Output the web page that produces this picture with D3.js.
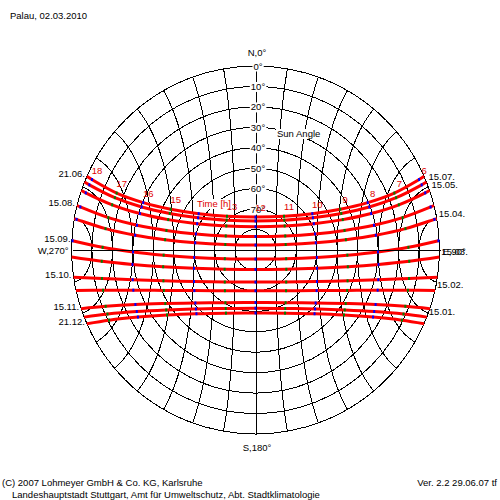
<!DOCTYPE html>
<html><head><meta charset="utf-8">
<script src="https://cdn.jsdelivr.net/npm/d3@7"></script>
<style>
html,body{margin:0;padding:0;background:#fff;}
svg{display:block;font-family:"Liberation Sans",Arial,sans-serif;}
</style></head><body>
<svg id="chart" width="500" height="500"></svg>
<script>
// ---------------- data ----------------
const title = "Palau, 02.03.2010";
const footerLeft1 = "(C) 2007 Lohmeyer GmbH & Co. KG, Karlsruhe";
const footerLeft2 = "Landeshauptstadt Stuttgart, Amt für Umweltschutz, Abt. Stadtklimatologie";
const footerRight = "Ver. 2.2 29.06.07 tf";
const elevationRings = [0, 10, 20, 30, 40, 50, 60, 70, 80];
const elevationLabels = [0, 10, 20, 30, 40, 50, 60, 70];
// grid curves: angle (deg) measured from the east direction
const gridAngles = [10, 20, 30, 40, 50, 60, 70, 80, 100, 110, 120, 130, 140, 150, 160, 170];
const compassLabels = ["N,0°", "E,90°", "S,180°", "W,270°"];
const compassAz = [0, 90, 180, 270];
// hour 14 is hidden under the "Time [h]" caption in the reference
const hourLabels = [6, 7, 8, 9, 10, 11, 12, 13, 15, 16, 17, 18];
const dateNames = ["21.06.", "15.07.", "15.05.", "15.08.", "15.04.", "15.09.", "15.03.", "15.10.", "15.02.", "15.11.", "15.01.", "21.12."];
const dateLabelSide = ["left", "right", "right", "left", "right", "left", "right", "left", "right", "left", "right", "left"];
// sun positions per date: [hour, azimuth deg, elevation deg]
const sun2106 = [[5.79,66.4,0],[6,66.7,2.9],[7,67.7,16.6],[8,67.1,30.4],[9,64.3,44.0],[10,57.4,57.0],[11,40.2,68.4],[12,0,73.9],[13,319.8,68.4],[14,302.6,57.0],[15,295.7,44.0],[16,292.9,30.4],[17,292.3,16.6],[18,293.3,2.9],[18.21,293.6,0]];
const sun1507 = [[5.81,68.3,0],[6,68.6,2.7],[7,69.6,16.6],[8,69.3,30.5],[9,66.9,44.4],[10,60.7,57.8],[11,44.0,69.7],[12,0,75.8],[13,316.0,69.7],[14,299.3,57.8],[15,293.1,44.4],[16,290.7,30.5],[17,290.4,16.6],[18,291.4,2.7],[18.19,291.7,0]];
const sun1505 = [[5.83,71.1,0],[6,71.4,2.4],[7,72.5,16.5],[8,72.5,30.7],[9,70.8,44.8],[10,65.7,58.7],[11,50.5,71.5],[12,0,78.6],[13,309.5,71.5],[14,294.3,58.7],[15,289.2,44.8],[16,287.5,30.7],[17,287.5,16.5],[18,288.6,2.4],[18.17,288.9,0]];
const sun1508 = [[5.88,76.0,0],[6,76.2,1.8],[7,77.6,16.3],[8,78.2,30.8],[9,77.6,45.4],[10,74.9,59.8],[11,64.7,73.9],[12,0,83.4],[13,295.3,73.9],[14,285.1,59.8],[15,282.4,45.4],[16,281.8,30.8],[17,282.4,16.3],[18,283.8,1.8],[18.12,284.0,0]];
const sun1504 = [[5.92,80.2,0],[6,80.3,1.2],[7,81.9,15.9],[8,83.0,30.7],[9,83.5,45.5],[10,83.2,60.3],[11,79.7,75.0],[12,0,87.6],[13,280.3,75.0],[14,276.8,60.3],[15,276.5,45.5],[16,277.0,30.7],[17,278.1,15.9],[18,279.7,1.2],[18.08,279.8,0]];
const sun1509 = [[6,87.1,0.4],[7,89.0,15.2],[8,90.9,30.1],[9,93.2,45.0],[10,96.9,59.8],[11,105.8,74.4],[12,180,85.6],[13,254.2,74.4],[14,263.1,59.8],[15,266.8,45.0],[16,269.1,30.1],[17,271.0,15.2],[18,272.9,0.4]];
const sun1503 = [[6.02,92.2,0],[7,94.2,14.6],[8,96.7,29.4],[9,100.3,44.1],[10,106.6,58.6],[11,122.0,72.2],[12,180,80.5],[13,238.0,72.2],[14,253.4,58.6],[15,259.7,44.1],[16,263.3,29.4],[17,265.8,14.6],[17.98,267.8,0]];
const sun1510 = [[6.07,98.5,0],[7,100.5,13.6],[8,103.6,28.2],[9,108.5,42.5],[10,117.2,56.2],[11,136.2,68.3],[12,180,74.3],[13,223.8,68.3],[14,242.8,56.2],[15,251.5,42.5],[16,256.4,28.2],[17,259.5,13.6],[17.93,261.5,0]];
const sun1502 = [[6.11,102.7,0],[7,104.8,12.9],[8,108.2,27.1],[9,113.8,41.0],[10,123.6,54.1],[11,143.1,65.1],[12,180,70.1],[13,216.9,65.1],[14,236.4,54.1],[15,246.2,41.0],[16,251.8,27.1],[17,255.2,12.9],[17.89,257.3,0]];
const sun1511 = [[6.16,108.6,0],[7,110.6,11.7],[8,114.4,25.5],[9,120.7,38.7],[10,131.4,50.8],[11,150.3,60.3],[12,180,64.3],[13,209.7,60.3],[14,228.6,50.8],[15,239.3,38.7],[16,245.6,25.5],[17,249.4,11.7],[17.84,251.4,0]];
const sun1501 = [[6.19,111.4,0],[7,113.4,11.1],[8,117.4,24.6],[9,123.9,37.4],[10,134.7,49.0],[11,153.0,57.9],[12,180,61.5],[13,207.0,57.9],[14,225.3,49.0],[15,236.1,37.4],[16,242.6,24.6],[17,246.6,11.1],[17.81,248.6,0]];
const sun2112 = [[6.21,113.6,0],[7,115.6,10.6],[8,119.7,23.8],[9,126.3,36.3],[10,137.2,47.5],[11,154.9,55.9],[12,180,59.2],[13,205.1,55.9],[14,222.8,47.5],[15,233.7,36.3],[16,240.3,23.8],[17,244.4,10.6],[17.79,246.4,0]];
const sunPaths = [sun2106, sun1507, sun1505, sun1508, sun1504, sun1509, sun1503, sun1510, sun1502, sun1511, sun1501, sun2112];

// ---------------- layout ----------------
const cx = 255.5, cy = 250, R = 184;
const FONT = 9.5;
const svg = d3.select("#chart");
svg.append("rect").attr("width", 500).attr("height", 500).attr("fill", "#fff");

const rScale = d3.scaleLinear().domain([90, 0]).range([0, R]);
const aScale = d3.scaleLinear().domain([0, 360]).range([0, 2 * Math.PI]);
const pos = (az, el) => {
  const r = rScale(el), a = aScale(az);
  return [cx + r * Math.sin(a), cy - r * Math.cos(a)];
};

const g = svg.append("g").attr("transform", `translate(${cx},${cy})`);

function labelWithBg(parent, x, y, text, opts) {
  const o = Object.assign({anchor: "start", color: "#000", bg: false, size: FONT}, opts || {});
  const grp = parent.append("g");
  const t = grp.append("text").attr("x", x).attr("y", y)
    .attr("text-anchor", o.anchor).attr("fill", o.color)
    .attr("font-size", o.size).text(text);
  if (o.bg) {
    const b = t.node().getBBox();
    grp.insert("rect", "text").attr("x", b.x - 1).attr("y", b.y + 1)
      .attr("width", b.width + 2).attr("height", b.height - 1).attr("fill", "#fff");
  }
  return t;
}

// ---------------- grid ----------------
g.selectAll("circle.ring").data(elevationRings).join("circle")
  .attr("class", "ring").attr("r", d => rScale(d))
  .attr("fill", "none").attr("stroke", "#000").attr("stroke-width", 1)
  .attr("shape-rendering", "crispEdges");

const gridLine = d3.lineRadial().angle(d => aScale(d[0])).radius(d => rScale(d[1]));
const psiSteps = d3.range(-90, 90.001, 2);
gridAngles.forEach(th => {
  const t = th * Math.PI / 180;
  const pts = psiSteps.map(ps => {
    const p = ps * Math.PI / 180;
    const east = Math.cos(t), north = Math.sin(t) * Math.sin(p), up = Math.sin(t) * Math.cos(p);
    return [Math.atan2(east, north) * 180 / Math.PI, Math.asin(Math.max(0, up)) * 180 / Math.PI];
  });
  g.append("path").attr("d", gridLine(pts)).attr("fill", "none")
    .attr("stroke", "#000").attr("stroke-width", 1).attr("shape-rendering", "crispEdges");
});
// N-S and E-W axes
[[0, 180], [90, 270]].forEach(pair => {
  const p1 = pos(pair[0], 0), p2 = pos(pair[1], 0);
  svg.append("line").attr("x1", Math.round(p1[0]) + 0.5).attr("y1", Math.round(p1[1]) + 0.5)
    .attr("x2", Math.round(p2[0]) + 0.5).attr("y2", Math.round(p2[1]) + 0.5)
    .attr("stroke", "#000").attr("stroke-width", 1).attr("shape-rendering", "crispEdges");
});

// elevation labels on the north axis
elevationLabels.forEach(e => {
  const p = pos(0, e);
  labelWithBg(svg, p[0] + 2.5, p[1] + 3.5, e + "°", {anchor: "middle", bg: true});
});
labelWithBg(svg, 277, 137, "Sun Angle", {bg: true});

// ---------------- sun paths ----------------
const sunLine = d3.lineRadial().angle(d => aScale(d[1])).radius(d => rScale(d[2]))
  .curve(d3.curveCatmullRom);
sunPaths.forEach(path => {
  g.append("path").attr("d", sunLine(path)).attr("fill", "none")
    .attr("stroke", "#f00").attr("stroke-width", 3).attr("stroke-linejoin", "round");
});
sunPaths.forEach(path => {
  path.filter(d => Number.isInteger(d[0])).forEach(d => {
    const p = pos(d[1], d[2]);
    svg.append("rect").attr("x", p[0] - 1).attr("y", p[1] - 1.5).attr("width", 2).attr("height", 3)
      .attr("fill", d[0] % 2 === 0 ? "#0000ff" : "#008000");
  });
});

// hour labels along the first (21.06.) path
hourLabels.forEach(h => {
  const d = sunPaths[0].find(q => q[0] === h);
  const p = pos(d[1], d[2]);
  labelWithBg(svg, p[0] + 5, p[1] - 6, String(h), {anchor: "middle", color: "#e00000"});
});
labelWithBg(svg, 197, 207, "Time [h]", {color: "#e00000", bg: true});

// date labels
sunPaths.forEach((path, i) => {
  if (dateLabelSide[i] === "left") {
    const d = path[path.length - 1], p = pos(d[1], d[2]);
    labelWithBg(svg, p[0] - 2, p[1] + 1, dateNames[i], {anchor: "end"});
  } else {
    const d = path[0], p = pos(d[1], d[2]);
    labelWithBg(svg, p[0] + 2, p[1] - 2, dateNames[i], {anchor: "start"});
  }
});

// compass labels
compassLabels.forEach((lab, i) => {
  const az = compassAz[i], p = pos(az, 0);
  if (az === 0) labelWithBg(svg, p[0] + 1.5, p[1] - 10, lab, {anchor: "middle"});
  else if (az === 180) labelWithBg(svg, p[0] + 1.5, p[1] + 17, lab, {anchor: "middle"});
  else if (az === 270) labelWithBg(svg, p[0] - 3, p[1] + 4, lab, {anchor: "end"});
  else labelWithBg(svg, p[0] + 3, p[1] + 5, lab, {anchor: "start"});
});

// title and footer
labelWithBg(svg, 10, 19, title);
labelWithBg(svg, 2, 486, footerLeft1);
labelWithBg(svg, 12, 498, footerLeft2);
labelWithBg(svg, 497, 486, footerRight, {anchor: "end"});
</script>
</body></html>
